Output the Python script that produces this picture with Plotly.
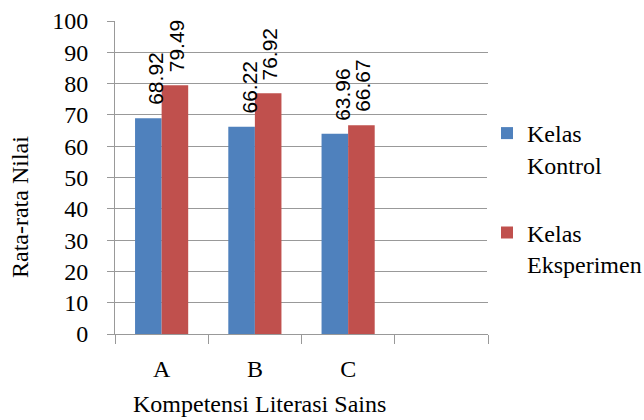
import plotly.graph_objects as go

categories = ["A", "B", "C"]
kontrol = [68.92, 66.22, 63.96]
eksperimen = [79.49, 76.92, 66.67]
series_names = ["Kelas<br>Kontrol", "Kelas<br>Eksperimen"]
y_ticks = list(range(0, 101, 10))

xpos = list(range(len(categories)))
serif = "Liberation Serif"
sans = "Liberation Sans"

L, R, T, B = 115, 156, 21, 86
W, H = 644, 420
plot_w = W - L - R
plot_h = H - T - B

fig = go.Figure()
series = [(series_names[0], kontrol, "#4F81BD", -0.06),
          (series_names[1], eksperimen, "#C0504D", 0.16)]
annotations = []
for k, (name, vals, color, dx) in enumerate(series):
    fig.add_trace(go.Bar(
        x=xpos, y=vals, name=name, legendgroup=f"g{k}",
        marker=dict(color=color, line=dict(width=0)),
    ))
    for xi, v in zip(xpos, vals):
        annotations.append(dict(
            x=xi + dx, y=v, xref="x", yref="y", text=f"{v:.2f}", textangle=-90,
            showarrow=False, xanchor="center", yanchor="bottom", yshift=11,
            font=dict(family=sans, size=21, color="#000")))

annotations.append(dict(text="Kompetensi Literasi Sains", xref="paper", yref="paper",
                        x=(259 - L) / plot_w, y=-(404 - (T + plot_h)) / plot_h,
                        xanchor="center", yanchor="middle", showarrow=False,
                        font=dict(family=serif, size=24)))
annotations.append(dict(text="Rata-rata Nilai", xref="paper", yref="paper",
                        x=(20 - L) / plot_w, y=1 - (207 - T) / plot_h,
                        xanchor="center", yanchor="middle", textangle=-90,
                        showarrow=False, font=dict(family=serif, size=24)))

fig.update_layout(
    width=W, height=H, barmode="group", bargap=0.43, bargroupgap=0,
    plot_bgcolor="white", paper_bgcolor="white",
    margin=dict(l=L, r=R, t=T, b=B, autoexpand=False),
    font=dict(family=serif, size=24, color="#000"),
    legend=dict(x=(487 - L) / plot_w, y=1 - (111 - T) / plot_h,
                xanchor="left", yanchor="top", valign="top",
                font=dict(family=serif, size=24), tracegroupgap=34,
                itemwidth=30),
    xaxis=dict(range=[-0.5, 3.5], tickmode="array", tickvals=xpos, ticktext=categories,
               ticks="", showgrid=False, showline=True, linecolor="#999", linewidth=1,
               tickfont=dict(family=serif, size=24), ticklabelstandoff=13,
               minor=dict(tickmode="array", tickvals=[-0.5, 0.5, 1.5, 2.5, 3.5],
                          ticks="outside", ticklen=9, tickcolor="#999", showgrid=False),
               zeroline=False, automargin=False),
    yaxis=dict(range=[0, 100], tickmode="array", tickvals=y_ticks, ticks="outside",
               ticklen=7, tickcolor="#999", showgrid=True, gridcolor="#999", gridwidth=1,
               showline=True, linecolor="#999", linewidth=1, zeroline=False,
               tickfont=dict(family=serif, size=24), ticklabelstandoff=14,
               automargin=False),
    annotations=annotations,
)

fig.write_html("out.html", config={"displayModeBar": False},
               post_script="document.body.style.margin='0';document.body.style.padding='0';")
